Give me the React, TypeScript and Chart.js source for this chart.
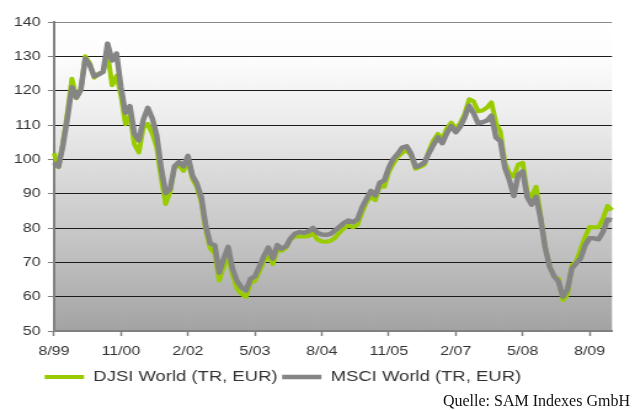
import React, { useEffect, useRef } from 'react';
import { Chart, registerables } from 'chart.js';

Chart.register(...registerables);

// Monthly categories 8/99 .. 1/10
const START_MONTH = 8;
const START_YEAR = 1999;
const MONTH_COUNT = 126;
const CATEGORIES: string[] = [];
for (let i = 0; i < MONTH_COUNT; i++) {
  const t = START_MONTH - 1 + i;
  const m = (t % 12) + 1;
  const y = (START_YEAR + Math.floor(t / 12)) % 100;
  CATEGORIES.push(`${m}/${String(y).padStart(2, '0')}`);
}

const TICK_LABELS = ['8/99', '11/00', '2/02', '5/03', '8/04', '11/05', '2/07', '5/08', '8/09'];

const Y_MIN = 50;
const Y_MAX = 140;
const Y_STEP = 10;

const DJSI_LABEL = 'DJSI World (TR, EUR)';
const MSCI_LABEL = 'MSCI World (TR, EUR)';
const SOURCE_TEXT = 'Quelle: SAM Indexes GmbH';

const DJSI = [
  101.8, 97.7, 105, 113.5, 123.5, 117.8, 120.3, 130, 128, 123.8,
  125, 125.4, 131, 121.6, 124.3, 118.5, 110.2, 112.8, 104.4, 102,
  109.2, 110.3, 107.5, 103.5, 94.5, 87, 90.5, 97.7, 98.2, 96.6,
  99.5, 94.3, 91.9, 87.5, 79.3, 74, 72.6, 64.7, 68.7, 71.9,
  66.3, 62.3, 60.7, 59.9, 64, 64.6, 67.3, 70.3, 72.4, 69.5,
  73.6, 73.4, 74.3, 76.8, 77.5, 77.6, 77.5, 77.6, 78.6, 76.6,
  76.1, 76, 76.3, 77.2, 78.7, 80, 80.7, 80.2, 81, 84.5,
  87.5, 89.1, 88.1, 92.4, 92, 96.3, 98.7, 100.7, 101.9, 102.6,
  101.2, 97.3, 97.8, 98.5, 102.5, 105.5, 107.4, 105.9, 109, 110.7,
  108.8, 110.5, 113.2, 117.5, 116.9, 114, 114.2, 115.1, 116.6, 110.6,
  108, 99, 96, 95, 98.5, 99, 90.5, 89.1, 92, 83.7,
  74.5, 69.2, 65.8, 65.3, 59, 60.5, 69.2, 70.2, 74, 77.4,
  80.3, 80.2, 80.2, 82.8, 86.4, 85.2,
];

const MSCI = [
  99, 97.9, 104, 112, 121, 118, 120.2, 129.3, 127.5, 124.2,
  124.7, 125.5, 133.7, 128.8, 130.8, 121, 113.5, 115.5, 107.5, 105.5,
  111.5, 115, 112, 107, 97.5, 90.2, 91.4, 98, 99.2, 98,
  101, 95.3, 92.9, 89, 80.6, 75.5, 75, 67, 71, 74.5,
  68, 64.5, 62.7, 61.8, 65.2, 65.9, 68.8, 71.8, 74.3, 71.1,
  75, 74, 74.7, 77, 78.4, 78.8, 78.6, 79, 80, 78.6,
  78.1, 78, 78.3, 79.3, 80.4, 81.5, 82.2, 81.7, 82.5, 86,
  88.5, 90.8, 89.5, 93.2, 93.9, 97.6, 100.1, 101.6, 103.4, 103.8,
  101.6, 97.8, 98.3, 99.1, 101.8, 104.2, 106.4, 104.7, 107.6, 109.7,
  107.9, 109.5, 112.2, 115.6, 113.4, 110.5, 110.8, 111.3, 112.7, 106.4,
  105.3, 97.5, 94, 89.3, 95.5, 96.5, 89, 86.8, 89.1, 82.8,
  74.5, 68.8, 66, 64.4, 60, 62, 68.2, 69.7, 71.2, 75,
  77, 77, 76.7, 78.9, 82.5, 82.3,
];

const GREEN = '#99CC00';
const GREY = '#858585';
const SANS = "'Liberation Sans', Arial, sans-serif";

// canvas is drawn narrower and stretched horizontally (like the reference)
const CANVAS_W = 516;
const CANVAS_H = 410;
const DISPLAY_W = 635;

const bgPlugin = {
  id: 'plotBg',
  beforeDraw(chart: any) {
    const { ctx, chartArea } = chart;
    if (!chartArea) return;
    const { left, top, right, bottom } = chartArea;
    const g = ctx.createLinearGradient(0, top, 0, bottom);
    g.addColorStop(0, '#ffffff');
    g.addColorStop(0.11, '#fdfdfd');
    g.addColorStop(0.33, '#ebebeb');
    g.addColorStop(0.55, '#d4d4d4');
    g.addColorStop(0.78, '#bdbdbd');
    g.addColorStop(1, '#a3a3a3');
    ctx.save();
    ctx.fillStyle = g;
    ctx.fillRect(left, top, right - left, bottom - top);
    ctx.restore();
  },
};

const legendPosPlugin = {
  id: 'legendPos',
  afterLayout(chart: any) {
    if (chart.legend) {
      chart.legend.left = 32.6;
    }
  },
};

export default function App() {
  const canvasRef = useRef<HTMLCanvasElement | null>(null);

  useEffect(() => {
    if (!canvasRef.current) return;
    const chart = new Chart(canvasRef.current, {
      type: 'line',
      data: {
        labels: CATEGORIES,
        datasets: [
          {
            label: DJSI_LABEL,
            data: DJSI,
            borderColor: GREEN,
            backgroundColor: GREEN,
            pointBorderColor: GREEN,
            pointBackgroundColor: GREEN,
            pointBorderWidth: 4,
            borderWidth: 4,
            pointRadius: 0,
            tension: 0,
            order: 2,
            borderJoinStyle: 'round',
          },
          {
            label: MSCI_LABEL,
            data: MSCI,
            borderColor: GREY,
            backgroundColor: GREY,
            pointBorderColor: GREY,
            pointBackgroundColor: GREY,
            pointBorderWidth: 4.5,
            borderWidth: 4.5,
            pointRadius: 0,
            tension: 0,
            order: 1,
            borderJoinStyle: 'round',
          },
        ],
      },
      options: {
        responsive: false,
        animation: false,
        devicePixelRatio: 1,
        events: [],
        layout: { padding: { left: 0, right: 18.7, top: 22, bottom: 15.5 } },
        plugins: {
          tooltip: { enabled: false },
          legend: {
            position: 'bottom',
            align: 'start',
            labels: {
              usePointStyle: true,
              pointStyle: 'line',
              pointStyleWidth: 32,
              padding: 3.7,
              color: '#333333',
              font: { family: SANS, size: 15 },
              sort: (a: any, b: any) => a.datasetIndex - b.datasetIndex,
            },
          },
        },
        scales: {
          x: {
            type: 'category',
            offset: false,
            afterBuildTicks: (scale: any) => {
              scale.ticks = scale.ticks.filter((t: any) => TICK_LABELS.includes(CATEGORIES[t.value]));
            },
            afterFit: (scale: any) => {
              scale.height = 34.8;
            },
            ticks: {
              autoSkip: false,
              maxRotation: 0,
              minRotation: 0,
              padding: 8,
              color: '#333333',
              font: { family: SANS, size: 13 },
            },
            grid: {
              drawOnChartArea: false,
              drawTicks: true,
              tickLength: 5,
              tickColor: '#808080',
              tickWidth: 1.5,
            },
            border: { color: '#808080', width: 2 },
          },
          y: {
            min: Y_MIN,
            max: Y_MAX,
            afterFit: (scale: any) => {
              scale.width = 43.88;
            },
            ticks: {
              stepSize: Y_STEP,
              padding: 6,
              color: '#333333',
              font: { family: SANS, size: 13 },
            },
            grid: {
              color: (c: any) => (c.tick && c.tick.value === Y_MAX ? '#8a8a8a' : '#1a1a1a'),
              lineWidth: 1,
              tickLength: 5,
              tickColor: '#808080',
            },
            border: { color: '#808080', width: 2 },
          },
        },
      } as any,
      plugins: [bgPlugin, legendPosPlugin],
    });
    return () => chart.destroy();
  }, []);

  return (
    <div style={{ position: 'absolute', left: 0, top: 0, width: DISPLAY_W, height: CANVAS_H, background: '#ffffff' }}>
      <canvas
        ref={canvasRef}
        width={CANVAS_W}
        height={CANVAS_H}
        style={{ display: 'block', width: DISPLAY_W + 'px', height: CANVAS_H + 'px' }}
      />
      <div
        style={{
          position: 'absolute',
          left: 0,
          top: 392.6,
          width: 630,
          textAlign: 'right',
          font: "16px/16px 'Liberation Serif', 'Times New Roman', serif",
          color: '#111111',
          whiteSpace: 'nowrap',
        }}
      >
        {SOURCE_TEXT}
      </div>
    </div>
  );
}
